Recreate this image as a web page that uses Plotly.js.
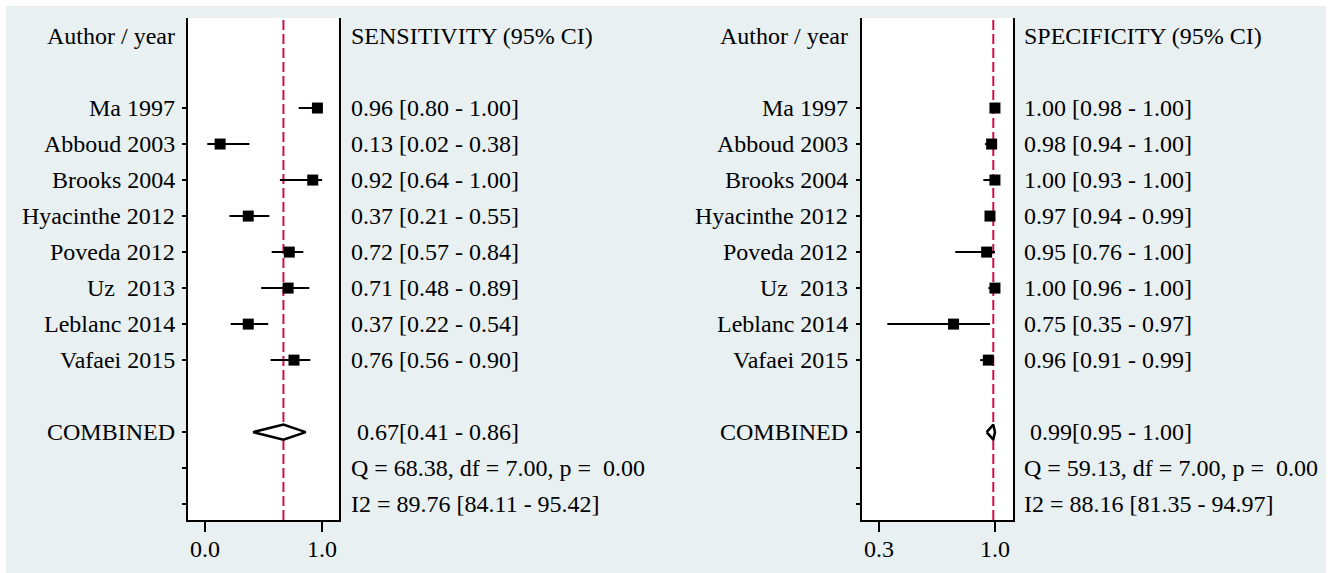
<!DOCTYPE html>
<html>
<head>
<meta charset="utf-8">
<script src="https://cdn.plot.ly/plotly-3.0.1.min.js"></script>
<style>
  html, body { margin: 0; padding: 0; background: #ffffff; width: 1328px; height: 573px; overflow: hidden; }
  #chart { position: absolute; left: 6px; top: 6px; width: 1320px; height: 567px; }
</style>
</head>
<body>
<div id="chart"></div>
<script>
// ---------------- data ----------------
var studies = ['Ma 1997', 'Abboud 2003', 'Brooks 2004', 'Hyacinthe 2012', 'Poveda 2012', 'Uz\u00a0 2013', 'Leblanc 2014', 'Vafaei 2015'];

var sens   = [0.96, 0.13, 0.92, 0.37, 0.72, 0.71, 0.37, 0.76];
var sensLo = [0.80, 0.02, 0.64, 0.21, 0.57, 0.48, 0.22, 0.56];
var sensHi = [1.00, 0.38, 1.00, 0.55, 0.84, 0.89, 0.54, 0.90];

var spec   = [1.00, 0.98, 1.00, 0.97, 0.95, 1.00, 0.75, 0.96];
var specLo = [0.98, 0.94, 0.93, 0.94, 0.76, 0.96, 0.35, 0.91];
var specHi = [1.00, 1.00, 1.00, 0.99, 1.00, 1.00, 0.97, 0.99];

var sensPooled = [0.67, 0.41, 0.86];   // estimate, lower, upper
var specPooled = [0.99, 0.95, 1.00];

var sensQ  = 'Q = 68.38, df = 7.00, p = \u00a00.00';
var sensI2 = 'I2 = 89.76 [84.11 - 95.42]';
var specQ  = 'Q = 59.13, df = 7.00, p = \u00a00.00';
var specI2 = 'I2 = 88.16 [81.35 - 94.97]';

var sensTickVals = [0, 1];
var sensTickText = ['0.0', '1.0'];
var specTickVals = [0.3, 1];
var specTickText = ['0.3', '1.0'];

var headerLabel = 'Author / year';
var sensHeader = 'SENSITIVITY (95% CI)';
var specHeader = 'SPECIFICITY (95% CI)';
var combinedLabel = 'COMBINED';

// ---------------- layout helpers ----------------
var studyRows = studies.map(function (_, i) { return i + 2; });
var combinedRow = 11, qRow = 12, i2Row = 13, headerRow = 0;

function fmt(v) { return v.toFixed(2); }
var FONT = 'Liberation Serif, Times New Roman, serif';
var FS = 24;
var RED = '#cc1144';

function studyTrace(est, lo, hi, xa, ya) {
  return {
    type: 'scatter', mode: 'markers', xaxis: xa, yaxis: ya,
    x: est, y: studyRows,
    marker: { symbol: 'square', size: 11, color: '#000000' },
    error_x: {
      type: 'data', symmetric: false,
      array: est.map(function (v, i) { return hi[i] - v; }),
      arrayminus: est.map(function (v, i) { return v - lo[i]; }),
      color: '#000000', thickness: 2, width: 0
    },
    hoverinfo: 'skip', showlegend: false, cliponaxis: false
  };
}
function diamondTrace(p, xa, ya) {
  var h = 0.21;
  return {
    type: 'scatter', mode: 'lines', xaxis: xa, yaxis: ya,
    x: [p[1], p[0], p[2], p[0], p[1]],
    y: [combinedRow, combinedRow - h, combinedRow, combinedRow + h, combinedRow],
    fill: 'toself', fillcolor: '#ffffff',
    line: { color: '#000000', width: 2.5 },
    hoverinfo: 'skip', showlegend: false
  };
}

var traces = [
  studyTrace(sens, sensLo, sensHi, 'x', 'y'),
  diamondTrace(sensPooled, 'x', 'y'),
  studyTrace(spec, specLo, specHi, 'x2', 'y2'),
  diamondTrace(specPooled, 'x2', 'y2')
];

// column positions (paper fractions)
var colLabelL = 0.12955, colStatL = 0.25985;
var colLabelR = 0.63940, colStatR = 0.76970;

var annotations = [];
function ann(text, x, row, anchor) {
  annotations.push({
    text: text, x: x, y: row, xref: 'paper', yref: 'y',
    xanchor: anchor, yanchor: 'middle', showarrow: false,
    font: { family: FONT, size: FS, color: '#000000' }
  });
}
[[colLabelL, colStatL, sens, sensLo, sensHi, sensHeader, sensPooled, sensQ, sensI2],
 [colLabelR, colStatR, spec, specLo, specHi, specHeader, specPooled, specQ, specI2]].forEach(function (c) {
  ann(headerLabel, c[0], headerRow, 'right');
  ann(c[5], c[1], headerRow, 'left');
  studies.forEach(function (s, i) {
    ann(s, c[0], studyRows[i], 'right');
    ann(fmt(c[2][i]) + ' [' + fmt(c[3][i]) + ' - ' + fmt(c[4][i]) + ']', c[1], studyRows[i], 'left');
  });
  ann(combinedLabel, c[0], combinedRow, 'right');
  ann('\u00a0' + fmt(c[6][0]) + '[' + fmt(c[6][1]) + ' - ' + fmt(c[6][2]) + ']', c[1], combinedRow, 'left');
  ann(c[7], c[1], qRow, 'left');
  ann(c[8], c[1], i2Row, 'left');
});

var yTicks = studyRows.concat([combinedRow, qRow, i2Row]);
function yAxis(anchor) {
  return {
    domain: [0.09347, 0.97884], range: [13.44, -0.5], anchor: anchor,
    showgrid: false, zeroline: false,
    showline: true, mirror: true, linecolor: '#000000', linewidth: 2,
    tickvals: yTicks, ticks: 'outside', ticklen: 4, tickwidth: 1.5, tickcolor: '#000000',
    showticklabels: false, fixedrange: true
  };
}
function xAxis(domain, range, tv, tt, anchor) {
  return {
    domain: domain, range: range, anchor: anchor,
    showgrid: false, zeroline: false,
    showline: true, linecolor: '#000000', linewidth: 2,
    tickvals: tv, ticktext: tt, ticks: 'outside', ticklen: 10, tickwidth: 2, tickcolor: '#000000',
    ticklabelstandoff: -4,
    tickfont: { family: FONT, size: FS, color: '#000000' }, fixedrange: true
  };
}

var layout = {
  width: 1320, height: 567,
  margin: { l: 0, r: 0, t: 0, b: 0 },
  paper_bgcolor: '#e8f0f2', plot_bgcolor: '#ffffff',
  showlegend: false,
  xaxis: xAxis([0.13788, 0.25227], [-0.144, 1.144], sensTickVals, sensTickText, 'y'),
  yaxis: yAxis('x'),
  xaxis2: xAxis([0.64848, 0.76288], [0.197, 1.109], specTickVals, specTickText, 'y2'),
  yaxis2: yAxis('x2'),
  shapes: [
    { type: 'line', xref: 'x', yref: 'y domain', x0: sensPooled[0], x1: sensPooled[0], y0: 0, y1: 1,
      line: { color: RED, width: 2, dash: '10px,4px' }, layer: 'below' },
    { type: 'line', xref: 'x2', yref: 'y2 domain', x0: specPooled[0], x1: specPooled[0], y0: 0, y1: 1,
      line: { color: RED, width: 2, dash: '10px,4px' }, layer: 'below' }
  ],
  annotations: annotations
};

Plotly.newPlot('chart', traces, layout, { staticPlot: true, displayModeBar: false });
</script>
</body>
</html>
